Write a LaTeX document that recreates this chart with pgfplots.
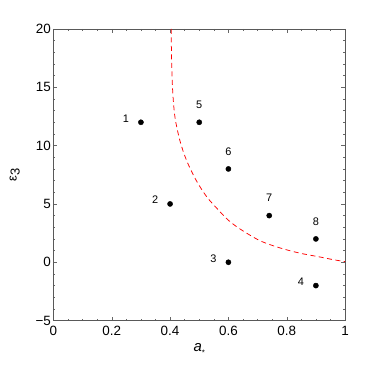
\documentclass[border=0pt]{standalone}
\usepackage{pgfplots}
\pgfplotsset{compat=1.18}
\usepackage{fontspec}
\setmainfont{Liberation Sans}
\usetikzlibrary{calc}

\begin{document}
\begin{tikzpicture}
\begin{axis}[
    width=292bp, height=292bp, scale only axis,
    xmin=0, xmax=1,
    ymin=-5, ymax=20,
    xtick={0,0.2,0.4,0.6,0.8,1},
    xticklabels={0,0.2,0.4,0.6,0.8,1},
    ytick={-5,0,5,10,15,20},
    yticklabels={−5,0,5,10,15,20},
    minor x tick num=3,
    minor y tick num=4,
    major tick length=4bp,
    minor tick length=2bp,
    tick style={gray!80!black, line width=0.4pt},
    axis line style={gray!70!black, line width=0.6pt},
    tick label style={font=\fontsize{13.5}{14}\selectfont, black},
    xticklabel style={yshift=-2bp},
    yticklabel style={xshift=1bp},
    xlabel={\fontsize{15}{15}\selectfont\textit{a}\raisebox{-0.5ex}{\fontsize{8}{8}\selectfont *}},
    ylabel={\fontsize{13}{13}\selectfont ε\raisebox{-0.45ex}{3}},
    xlabel style={yshift=-1bp},
    ylabel style={yshift=9bp},
    clip=false,
]

% boundary curve
\addplot[red, smooth, tension=0.5, line width=0.75pt, dash pattern=on 5bp off 3.5bp] coordinates {
(0.404,20) (0.405,17.5) (0.409,14.65) (0.417,12.4) (0.434,10.4) (0.457,8.7)
(0.49,7.0) (0.526,5.6) (0.565,4.5) (0.60,3.6) (0.64,2.85) (0.708,1.85)
(0.777,1.23) (0.845,0.78) (0.914,0.45) (0.96,0.22) (1.0,0.05)
};

% points labelled on the left
\addplot[only marks, mark=*, mark size=2.6bp, black,
    point meta=explicit symbolic, nodes near coords,
    every node near coord/.append style={anchor=center, xshift=-15bp, yshift=4bp,
        font=\fontsize{11}{11}\selectfont}]
    coordinates {
    (0.3,12)[1] (0.4,5)[2] (0.6,0)[3] (0.9,-2)[4]
};

% points labelled above
\addplot[only marks, mark=*, mark size=2.6bp, black,
    point meta=explicit symbolic, nodes near coords,
    every node near coord/.append style={anchor=center, yshift=17.5bp,
        font=\fontsize{11}{11}\selectfont}]
    coordinates {
    (0.5,12)[5] (0.6,8)[6] (0.74,4)[7] (0.9,2)[8]
};
\end{axis}
\pgfresetboundingbox
\path[use as bounding box] ($(current axis.south west)+(-53.5bp,-44bp)$)
    rectangle ($(current axis.north east)+(37bp,29bp)$);
\end{tikzpicture}
\end{document}
